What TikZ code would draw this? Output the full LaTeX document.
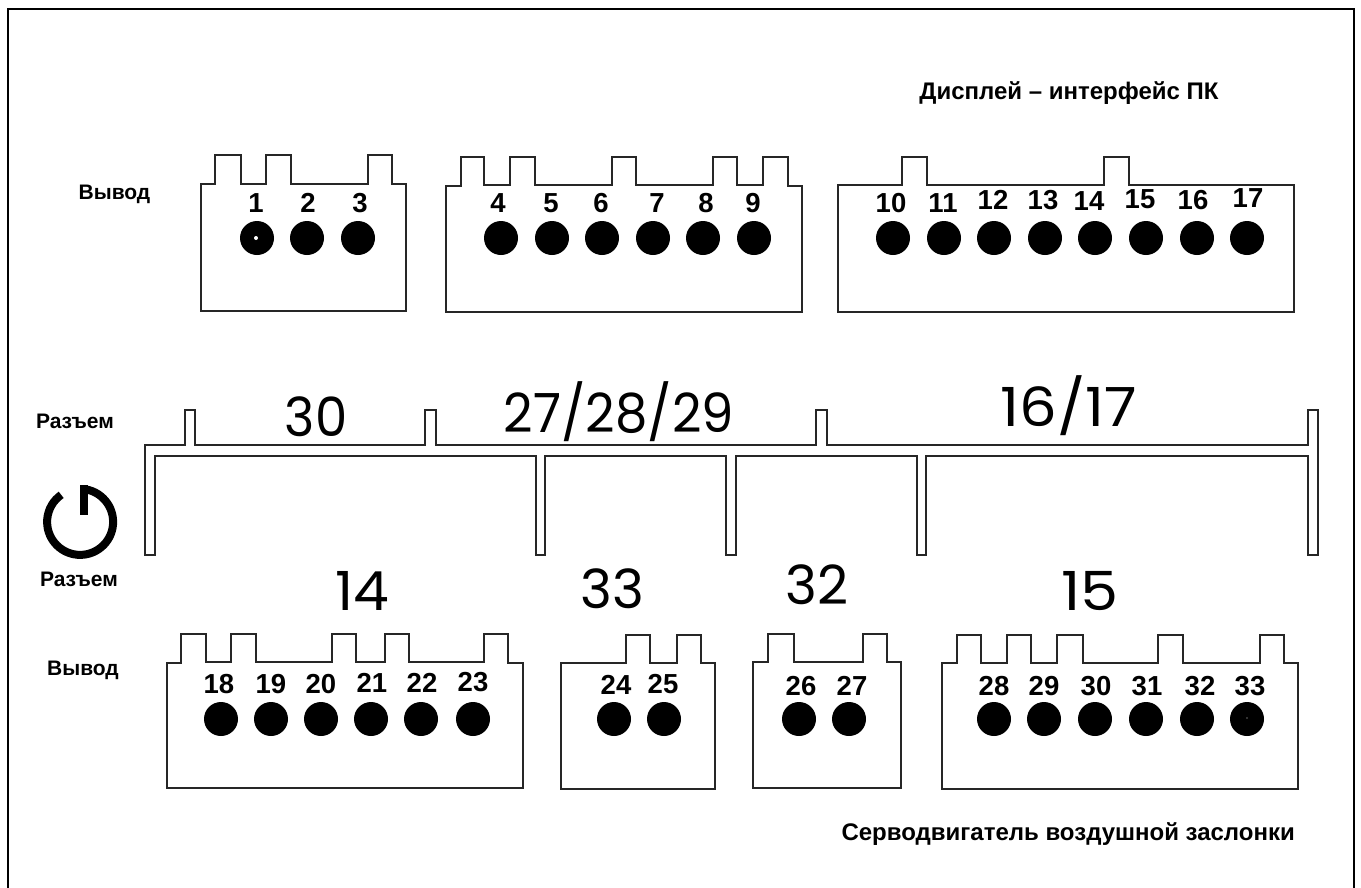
\documentclass[tikz,border=0pt]{standalone}
\usepackage{fontspec}
\setmainfont{Liberation Sans}
\newfontfamily\bignumfont{Poppins}
\tikzset{
  outline/.style={line width=1.5pt, black!85, line join=miter},
  frameline/.style={line width=2.5pt, black},
  sidelabel/.style={inner sep=0pt, font=\fontsize{21}{21}\selectfont\bfseries},
  titlelabel/.style={inner sep=0pt, font=\fontsize{24}{24}\selectfont\bfseries},
  pinlabel/.style={inner sep=0pt, font=\fontsize{27.5}{27.5}\selectfont\bfseries},
  biglabel/.style={inner sep=0pt, anchor=base, font=\fontsize{54}{54}\bignumfont},
}
\begin{document}
\begin{tikzpicture}[x=1pt,y=-1pt]
  \useasboundingbox (0,0) rectangle (1361,887);
  \draw[frameline] (8,892) -- (8,9) -- (1354,9) -- (1354,892);

  % top connectors
  \draw[outline] (201,184) -- (215,184) -- (215,155) -- (241,155) -- (241,184) -- (266,184) -- (266,155) -- (291,155) -- (291,184) -- (368,184) -- (368,155) -- (392,155) -- (392,184) -- (406,184) -- (406,311) -- (201,311) -- cycle;
  \draw[outline] (446,186) -- (461,186) -- (461,157) -- (484,157) -- (484,185) -- (510,185) -- (510,157) -- (535,157) -- (535,185) -- (612,185) -- (612,157) -- (636,157) -- (636,185) -- (713,185) -- (713,157) -- (737,157) -- (737,185) -- (763,185) -- (763,157) -- (788,157) -- (788,186) -- (802,186) -- (802,312) -- (446,312) -- cycle;
  \draw[outline] (838,185) -- (902,185) -- (902,157) -- (927,157) -- (927,185) -- (1104,185) -- (1104,157) -- (1129,157) -- (1129,185) -- (1294,185) -- (1294,312) -- (838,312) -- cycle;

  % socket band
  \draw[outline] (145,555) -- (145,445) -- (185,445) -- (185,410) -- (195,410) -- (195,445) -- (425,445) -- (425,410) -- (436,410) -- (436,445) -- (816,445) -- (816,410) -- (827,410) -- (827,445) -- (1308,445) -- (1308,410) -- (1318,410) -- (1318,555) -- (1308,555) -- (1308,456) -- (926,456) -- (926,555) -- (917,555) -- (917,456) -- (736,456) -- (736,555) -- (726,555) -- (726,456) -- (545,456) -- (545,555) -- (536,555) -- (536,456) -- (155,456) -- (155,555) -- cycle;

  % bottom connectors
  \draw[outline] (167,663) -- (181,663) -- (181,634) -- (206,634) -- (206,662) -- (231,662) -- (231,634) -- (256,634) -- (256,662) -- (332,662) -- (332,634) -- (356,634) -- (356,662) -- (385,662) -- (385,634) -- (409,634) -- (409,662) -- (484,662) -- (484,634) -- (508,634) -- (508,663) -- (523,663) -- (523,788) -- (167,788) -- cycle;
  \draw[outline] (561,663) -- (626,663) -- (626,635) -- (650,635) -- (650,663) -- (677,663) -- (677,635) -- (701,635) -- (701,663) -- (715,663) -- (715,789) -- (561,789) -- cycle;
  \draw[outline] (753,662) -- (768,662) -- (768,634) -- (794,634) -- (794,662) -- (863,662) -- (863,634) -- (887,634) -- (887,662) -- (901,662) -- (901,788) -- (753,788) -- cycle;
  \draw[outline] (942,663) -- (957,663) -- (957,635) -- (981,635) -- (981,663) -- (1007,663) -- (1007,635) -- (1031,635) -- (1031,663) -- (1057,663) -- (1057,635) -- (1083,635) -- (1083,663) -- (1158,663) -- (1158,635) -- (1183,635) -- (1183,663) -- (1260,663) -- (1260,635) -- (1284,635) -- (1284,663) -- (1298,663) -- (1298,789) -- (942,789) -- cycle;

  % pins
  \foreach \x in {257,307,358,501,552,602,653,703,754,893,944,994,1045,1095,1146,1197,1247}
    \fill (\x,238) circle (17);
  \foreach \x in {221,271,321,371,421,473,614,664,799,849,994,1044,1095,1146,1197,1247}
    \fill (\x,719) circle (17);
  \fill[white] (256,238) circle (2);
  \fill[black!60] (1247,718) circle (0.8);

  % pin numbers
  \foreach \n/\x/\y in {1/256/203,2/308/203,3/360/203,4/498/203,5/551/203,6/601/203,7/657/203,8/706/203,9/753/203,
    10/891/203,11/943/203,12/993/200,13/1043/200,14/1089/201,15/1140/199,16/1193/200,17/1248/198,
    18/219/684,19/271/684,20/321/684,21/372/683,22/422/683,23/473/682,24/616/685,25/663/684,26/801/686,27/852/686,
    28/994/686,29/1044/686,30/1096/686,31/1147/686,32/1200/686,33/1250/686}
    \node[pinlabel] (num\n) at (\x,\y) {\n};

  % big labels
  \node[biglabel] (lblthirty) at (316,436) {\scalebox{.95}[1]{30}};
  \node[biglabel] (lblcombo) at (619,432) {\scalebox{.95}[1]{27/28/29}};
  \node[biglabel] (lblsixteen) at (1069,426) {\scalebox{1.1}[1]{16/17}};
  \node[biglabel] (lblfourteen) at (362,610) {\scalebox{1.05}[1]{14}};
  \node[biglabel] (lblthreeA) at (612,608) {33};
  \node[biglabel] (lblthreeB) at (817,604) {32};
  \node[biglabel] (lblfifteen) at (1090,610) {\scalebox{1.12}[1]{15}};

  % power symbol
  \draw[line width=8pt, black] (83,489) arc[start angle=-85, end angle=235, radius=33];
  \draw[line width=8pt, black] (84,485) -- (84,515);

  % captions
  \node[titlelabel] (capdisplay) at (1069,93) {Дисплей – интерфейс ПК};
  \node[sidelabel] (capoutA) at (114.5,194) {Вывод};
  \node[sidelabel] (capsockA) at (75,421) {Разъем};
  \node[sidelabel] (capsockB) at (79,579) {Разъем};
  \node[sidelabel] (capoutB) at (83,670) {Вывод};
  \node[titlelabel, anchor=east] (capservo) at (1295,834) {Серводвигатель воздушной заслонки};
\end{tikzpicture}
\end{document}
